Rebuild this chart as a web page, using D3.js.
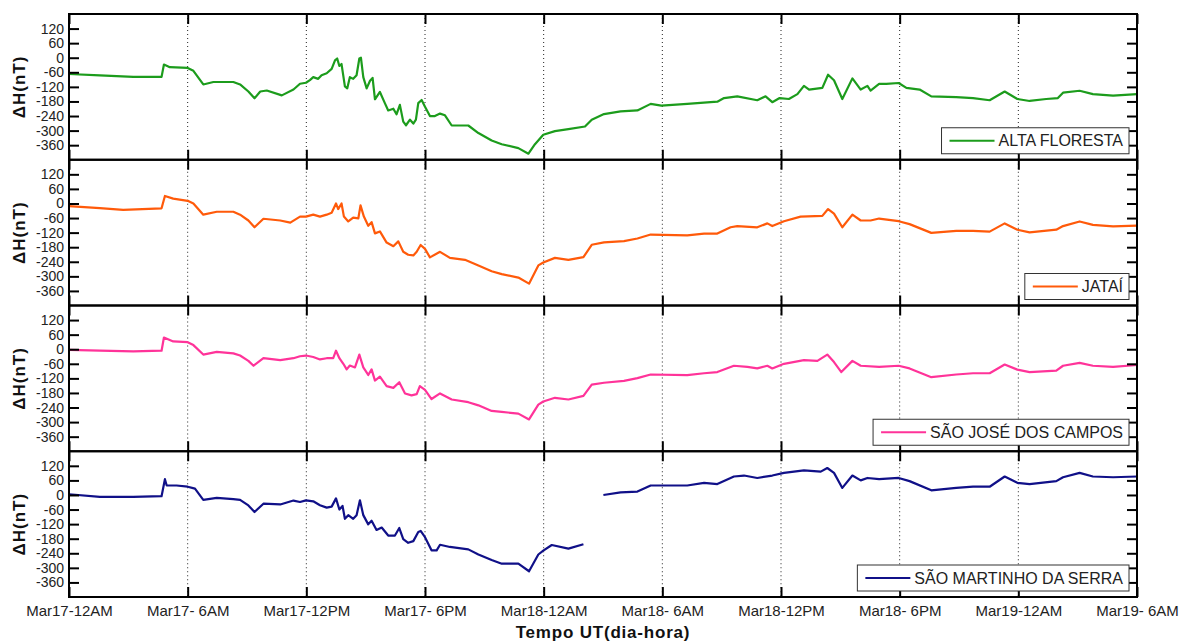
<!DOCTYPE html>
<html>
<head>
<meta charset="utf-8">
<script src="https://cdn.jsdelivr.net/npm/d3@7"></script>
<style>
  html, body { margin: 0; padding: 0; background: #fff; }
  svg { display: block; font-family: "Liberation Sans", Arial, sans-serif; }
</style>
</head>
<body>
<svg id="chart" width="1180" height="642"></svg>
<script>
// Time axis: hours since Mar17 00:00 UT
const xTickHours = [0, 6, 12, 18, 24, 30, 36, 42, 48, 54];
const xTickLabels = ["Mar17-12AM", "Mar17- 6AM", "Mar17-12PM", "Mar17- 6PM", "Mar18-12AM",
                     "Mar18- 6AM", "Mar18-12PM", "Mar18- 6PM", "Mar19-12AM", "Mar19- 6AM"];
const yTickValues = [120, 60, 0, -60, -120, -180, -240, -300, -360];
const yTickLabels = ["120", "60", "0", "-60", "-120", "-180", "-240", "-300", "-360"];

const stationNames = ["ALTA FLORESTA", "JATAÍ", "SÃO JOSÉ DOS CAMPOS", "SÃO MARTINHO DA SERRA"];
const stationColors = ["#1c9c1c", "#ff5a0a", "#ff3399", "#101088"];

// ALTA FLORESTA ΔH (nT)
const altaHours = [0, 1.56, 3.25, 4.68, 4.80, 5.10, 6.0, 6.29, 6.79, 7.30, 8.31, 8.65, 9.07, 9.38, 9.67, 10.0,
  10.76, 11.35, 11.68, 11.98, 12.18, 12.35, 12.60, 12.77, 13.03, 13.28, 13.45, 13.56, 13.67, 13.78, 13.95,
  14.07, 14.20, 14.37, 14.54, 14.68, 14.76, 14.88, 15.05, 15.22, 15.35, 15.47, 15.72, 15.97, 16.14, 16.40,
  16.56, 16.73, 16.90, 17.04, 17.24, 17.41, 17.54, 17.66, 17.83, 18.0, 18.25, 18.50, 18.76,
  19.01, 19.35, 20.19, 20.70, 21.37, 21.88, 22.72, 23.23, 23.56, 23.98, 24.57, 25.25, 26.09, 26.43, 27.05,
  27.89, 28.74, 29.41, 29.95, 31.26, 32.78, 33.12, 33.79, 34.80, 35.22, 35.56, 35.93, 36.40, 36.83, 37.16,
  37.42, 38.09, 38.38, 38.68, 39.10, 39.61, 40.03, 40.37, 40.53, 40.96, 41.32, 41.95, 42.34, 43.01, 43.60,
  44.86, 45.71, 46.55, 47.31, 47.95, 48.57, 49.41, 50.0, 50.26, 51.10, 51.77, 52.79, 54.0];
const altaValues = [-67, -73, -79, -79, -28, -39, -42, -54, -110, -100, -100, -110, -139, -167, -139, -135,
  -155, -131, -107, -103, -92, -80, -87, -72, -64, -46, -11, -3, -34, -26, -118,
  -126, -80, -87, -72, -3, 0, -80, -126, -95, -83, -171, -141, -187, -217, -210,
  -233, -194, -263, -278, -255, -271, -255, -187, -174, -202, -240, -240, -230,
  -237, -279, -279, -310, -341, -356, -372, -395, -356, -317, -302, -294, -283, -255, -232,
  -221, -217, -190, -197, -190, -181, -166, -159, -175, -159, -183, -166, -170, -150, -116,
  -131, -124, -70, -93, -170, -85, -131, -116, -135, -108, -108, -104, -124, -131, -159,
  -162, -166, -175, -139, -170, -178, -170, -166, -144, -136, -150, -156, -150];

// JATAÍ ΔH (nT)
const jataiHours = [0, 1.56, 2.74, 4.68, 4.85, 5.27, 6.0, 6.29, 6.79, 7.47, 8.31, 8.65, 9.07, 9.38, 9.83,
  10.68, 11.19, 11.68, 11.98, 12.35, 12.69, 13.03, 13.28, 13.50, 13.61, 13.78, 13.90, 14.12, 14.37, 14.63,
  14.74, 14.91, 15.13, 15.30, 15.47, 15.72, 16.06, 16.40, 16.65, 16.90, 17.15, 17.41, 17.58, 17.78, 18.0,
  18.25, 18.76, 19.26, 20.02, 20.70, 21.37, 21.88,
  22.72, 23.26, 23.73, 23.98, 24.57, 25.25, 26.01, 26.43, 27.05, 28.06, 28.74, 29.41, 31.26, 32.11, 32.78,
  33.45, 33.79, 34.80, 35.31, 35.56, 36.15, 36.99, 38.09, 38.38, 38.68, 39.10, 39.61, 40.03, 40.53, 40.96,
  41.95, 42.50, 43.60, 44.86, 45.71, 46.55, 47.31, 47.95, 48.57, 49.92, 50.26, 51.10, 51.77, 52.79, 54.0];
const jataiValues = [-11, -19, -26, -20, 31, 20, 11, 0, -46, -34, -34, -46, -70, -98, -63,
  -70, -79, -54, -54, -46, -54, -46, -38, 0, -23, 0, -54, -74, -58, -61,
  -8, -54, -92, -77, -123, -115, -161, -176, -156, -199, -211, -214, -199, -171, -187,
  -222, -199, -224, -232, -255, -279, -291,
  -305, -330, -255, -243, -224, -232, -221, -170, -160, -155, -144, -128, -131, -124, -124,
  -98, -93, -98, -82, -93, -73, -54, -51, -23, -42, -98, -46, -70, -70, -62,
  -73, -85, -121, -113, -113, -116, -82, -108, -119, -108, -93, -74, -88, -94, -91];

// SÃO JOSÉ DOS CAMPOS ΔH (nT)
const sjcHours = [0, 1.56, 3.25, 4.68, 4.80, 5.27, 6.0, 6.29, 6.79, 7.47, 8.31, 8.65, 9.07, 9.33, 9.83,
  10.68, 11.35, 11.68, 11.98, 12.35, 12.69, 13.03, 13.36, 13.50, 13.67, 13.87, 14.04, 14.20, 14.46, 14.68,
  14.88, 15.13, 15.30, 15.47, 15.72, 16.06, 16.40, 16.70, 16.99, 17.32, 17.58, 17.74, 18.0, 18.33, 18.76,
  19.35, 20.19, 20.70, 21.37, 21.88, 22.72, 23.26,
  23.73, 23.98, 24.57, 25.25, 26.01, 26.43, 27.05, 28.06, 28.74, 29.41, 31.26, 32.11, 32.78, 33.62, 34.30,
  34.80, 35.31, 35.56, 36.15, 37.16, 37.84, 38.34, 38.68, 39.05, 39.61, 40.03, 40.96, 41.95, 42.50, 43.60,
  44.86, 45.71, 46.55, 47.31, 47.95, 48.57, 49.92, 50.26, 51.10, 51.77, 52.79, 54.0];
const sjcValues = [-3, -6, -9, -6, 48, 32, 29, 17, -22, -11, -17, -26, -48, -68, -37,
  -45, -37, -29, -26, -32, -42, -37, -37, -6, -37, -60, -83, -67, -75, -22,
  -75, -106, -83, -129, -113, -152, -159, -136, -182, -190, -185, -152, -167, -205, -182,
  -207, -218, -231, -254, -258, -265, -289,
  -228, -215, -200, -207, -192, -146, -138, -130, -119, -104, -107, -99, -94, -68, -73,
  -79, -68, -79, -60, -45, -48, -22, -53, -94, -48, -68, -73, -68, -79, -115,
  -104, -99, -99, -63, -84, -94, -88, -68, -56, -68, -73, -65];

// SÃO MARTINHO DA SERRA ΔH (nT); null marks the data gap
const smsHours = [0, 1.56, 3.25, 4.68, 4.85, 4.94, 5.44, 6.0, 6.37, 6.79, 7.47, 8.31, 8.65, 9.07, 9.38,
  9.83, 10.68, 11.35, 11.68, 11.98, 12.35, 12.69, 13.03, 13.28, 13.50, 13.67, 13.83, 13.95, 14.12, 14.37,
  14.54, 14.71, 14.88, 15.13, 15.30, 15.55, 15.81, 16.14, 16.48, 16.70, 16.90, 17.15, 17.41, 17.66, 17.78,
  18.0, 18.33, 18.59, 18.76, 19.26, 20.19, 20.70, 21.37, 21.88,
  22.72, 23.26, 23.73, 23.98, 24.41, 25.25, 26.01, 26.5, 27.02, 27.89, 28.74, 29.41, 31.26, 32.11, 32.78,
  33.62, 34.13, 34.80, 35.56, 36.15, 37.16, 38.01, 38.34, 38.68, 39.10, 39.61, 40.03, 40.37, 40.96, 41.95,
  42.50, 43.60, 44.86, 45.71, 46.55, 47.31, 47.95, 48.57, 49.92, 50.26, 51.10, 51.77, 52.79, 54.0];
const smsValues = [3, -8, -8, -5, 65, 39, 39, 34, 26, -20, -12, -17, -20, -43, -70,
  -36, -39, -23, -29, -22, -26, -42, -52, -48, -14, -60, -45, -98, -83, -98,
  -83, -22, -83, -121, -106, -144, -134, -167, -167, -136, -182, -197, -190, -152, -148,
  -174, -228, -228, -205, -214, -224, -245, -268, -283,
  -283, -314, -245, -229, -206, -221, -203, null, 0, 11, 14, 39, 39, 50, 45,
  76, 80, 70, 80, 91, 101, 96, 111, 91, 29, 80, 60, 70, 65, 70,
  57, 19, 29, 34, 34, 76, 50, 45, 57, 73, 91, 76, 73, 76];

const seriesHours = [altaHours, jataiHours, sjcHours, smsHours];
const seriesValues = [altaValues, jataiValues, sjcValues, smsValues];

// Layout
const plotLeft = 69, plotRight = 1137, plotTop = 14, plotBottom = 597;
const panelCount = 4;
const panelH = (plotBottom - plotTop) / panelCount;

const svg = d3.select("#chart");

const x = d3.scaleLinear().domain([0, 54]).range([plotLeft, plotRight]);

for (let p = 0; p < panelCount; p++) {
  const top = plotTop + p * panelH;
  const bottom = top + panelH;
  const y = d3.scaleLinear().domain([-420, 180]).range([bottom, top]);
  const g = svg.append("g").attr("class", "panel");

  // dotted vertical guides at interior hour ticks
  g.selectAll("line.vgrid")
    .data(xTickHours.slice(1, -1))
    .join("line")
    .attr("class", "vgrid")
    .attr("x1", d => x(d)).attr("x2", d => x(d))
    .attr("y1", top).attr("y2", bottom)
    .attr("stroke", "#222")
    .attr("stroke-width", 1)
    .attr("stroke-dasharray", "1,3");

  // station trace
  const pts = seriesHours[p].map((h, i) => ({ h, v: seriesValues[p][i] }));
  const line = d3.line()
    .defined(d => d.v !== null)
    .x(d => x(d.h))
    .y(d => y(d.v));
  g.append("path")
    .datum(pts)
    .attr("fill", "none")
    .attr("stroke", stationColors[p])
    .attr("stroke-width", 2.2)
    .attr("stroke-linejoin", "round")
    .attr("d", line);

  // left axis with labels, ticks pointing inward
  const left = g.append("g")
    .attr("transform", `translate(${plotLeft},0)`)
    .call(d3.axisLeft(y).tickValues(yTickValues)
      .tickFormat((d, i) => yTickLabels[i])
      .tickSize(-10).tickPadding(5));
  left.select(".domain").remove();
  left.selectAll("line").attr("stroke", "#000").attr("stroke-width", 2);
  left.selectAll("text").attr("font-size", 14).attr("fill", "#222")
    .attr("font-family", "'Liberation Sans', Arial, sans-serif");

  const right = g.append("g")
    .attr("transform", `translate(${plotRight},0)`)
    .call(d3.axisRight(y).tickValues(yTickValues).tickFormat("").tickSize(-10));
  right.select(".domain").remove();
  right.selectAll("line").attr("stroke", "#000").attr("stroke-width", 2);

  const topAxis = g.append("g")
    .attr("transform", `translate(0,${top})`)
    .call(d3.axisTop(x).tickValues(xTickHours).tickFormat("").tickSize(-10));
  topAxis.select(".domain").remove();
  topAxis.selectAll("line").attr("stroke", "#000").attr("stroke-width", 2);

  const bottomAxis = g.append("g")
    .attr("transform", `translate(0,${bottom})`)
    .call(d3.axisBottom(x).tickValues(xTickHours)
      .tickFormat((d, i) => p === panelCount - 1 ? xTickLabels[i] : "")
      .tickSize(-10).tickPadding(8));
  bottomAxis.select(".domain").remove();
  bottomAxis.selectAll("line").attr("stroke", "#000").attr("stroke-width", 2);
  bottomAxis.selectAll("text").attr("font-size", 15).attr("fill", "#222")
    .attr("font-family", "'Liberation Sans', Arial, sans-serif");

  // frame
  g.append("rect")
    .attr("x", plotLeft).attr("y", top)
    .attr("width", plotRight - plotLeft).attr("height", panelH)
    .attr("fill", "none").attr("stroke", "#000").attr("stroke-width", 2);

  // y-axis title
  g.append("text")
    .attr("transform", `translate(25,${(top + bottom) / 2}) rotate(-90)`)
    .attr("text-anchor", "middle")
    .attr("font-size", 17).attr("font-weight", "bold")
    .attr("letter-spacing", 1)
    .attr("fill", "#111")
    .text("ΔH(nT)");

  // legend box: frame, sample line, station name
  const legend = g.append("g").attr("class", "legend");
  const box = legend.append("rect");
  const sample = legend.append("line");
  const legendText = legend.append("text")
    .attr("font-size", 16).attr("fill", "#222")
    .attr("text-anchor", "end")
    .attr("x", plotRight - 14)
    .attr("y", bottom - 19)
    .attr("dominant-baseline", "central")
    .text(stationNames[p]);
  const tw = legendText.node().getComputedTextLength();
  const boxRight = plotRight - 8;
  const boxLeft = boxRight - 6 - tw - 4 - 45 - 8;
  box.attr("x", boxLeft).attr("y", bottom - 32)
    .attr("width", boxRight - boxLeft).attr("height", 26)
    .attr("fill", "#fff").attr("stroke", "#333").attr("stroke-width", 1);
  sample.attr("x1", boxLeft + 8).attr("x2", boxLeft + 53)
    .attr("y1", bottom - 19).attr("y2", bottom - 19)
    .attr("stroke", stationColors[p]).attr("stroke-width", 2);
}

// x-axis title
svg.append("text")
  .attr("x", (plotLeft + plotRight) / 2)
  .attr("y", 632)
  .attr("text-anchor", "middle")
  .attr("dominant-baseline", "central")
  .attr("font-size", 17).attr("font-weight", "bold")
  .attr("letter-spacing", 0.8)
  .attr("fill", "#111")
  .text("Tempo UT(dia-hora)");
</script>
</body>
</html>
